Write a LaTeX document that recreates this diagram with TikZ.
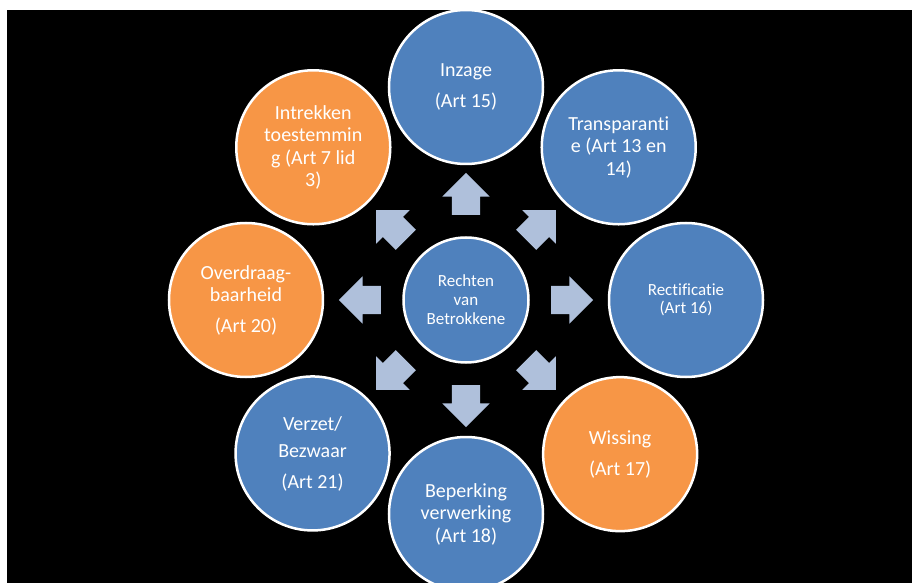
\documentclass[tikz,border=0pt]{standalone}
\usepackage{fontspec}
\setmainfont[Ligatures=NoCommon]{Carlito}
\usetikzlibrary{shapes.arrows}
\definecolor{accblue}{HTML}{4F81BD}
\definecolor{accorange}{HTML}{F79646}
\definecolor{arrowblue}{HTML}{AFC0DB}
\begin{document}
\begin{tikzpicture}[x=1pt,y=1pt,
    bol/.style={circle,draw=white,line width=2.5pt,text=white,align=center,inner sep=0pt,minimum size=154pt,font=\fontsize{20}{22.5}\selectfont},
    blauw/.style={bol,fill=accblue},
    oranje/.style={bol,fill=accorange},
    pijl/.style={single arrow,fill=arrowblue,inner xsep=0pt,inner ysep=14pt,minimum height=42pt,single arrow head extend=9.5pt,single arrow head indent=0pt}]
                      \useasboundingbox (-466,-283) rectangle (446,300);
                      \fill[white] (-466,-283) rectangle (446,300);
                      \fill[black] (-459,-283) rectangle (446,290);
                      \node[blauw,minimum size=125pt,font=\fontsize{17}{19}\selectfont] (kern) at (0,0) {Rechten\\van\\Betrokkene};
                      \node[blauw] (inzage) at (90:213) {Inzage\\[8.5pt](Art 15)};
                      \node[blauw] (transp) at (45:216) {Transparanti\\e (Art 13 en\\14)};
                      \node[blauw,font=\fontsize{17}{18}\selectfont] (rectif) at (0:220) {Rectificatie\\(Art 16)};
                      \node[oranje] (wissing) at (-45:218) {Wissing\\[8.5pt](Art 17)};
                      \node[blauw] (beperk) at (-90:214) {Beperking\\verwerking\\(Art 18)};
                      \node[blauw] (verzet) at (-135:217) {Verzet/\\[4.5pt]Bezwaar\\[8.5pt](Art 21)};
                      \node[oranje] (overdr) at (180:220) {Overdraag-\\baarheid\\[8pt](Art 20)};
                      \node[oranje] (intrek) at (135:216) {Intrekken\\toestemmin\\g (Art 7 lid\\3)};
                      \foreach \a/\n in {90/inzage,45/transp,0/rectif,-45/wissing,-90/beperk,-135/verzet,180/overdr,135/intrek}
                        \node[pijl,rotate=\a] (p\n) at (\a:99) {};
                  \end{tikzpicture}
\end{document}
